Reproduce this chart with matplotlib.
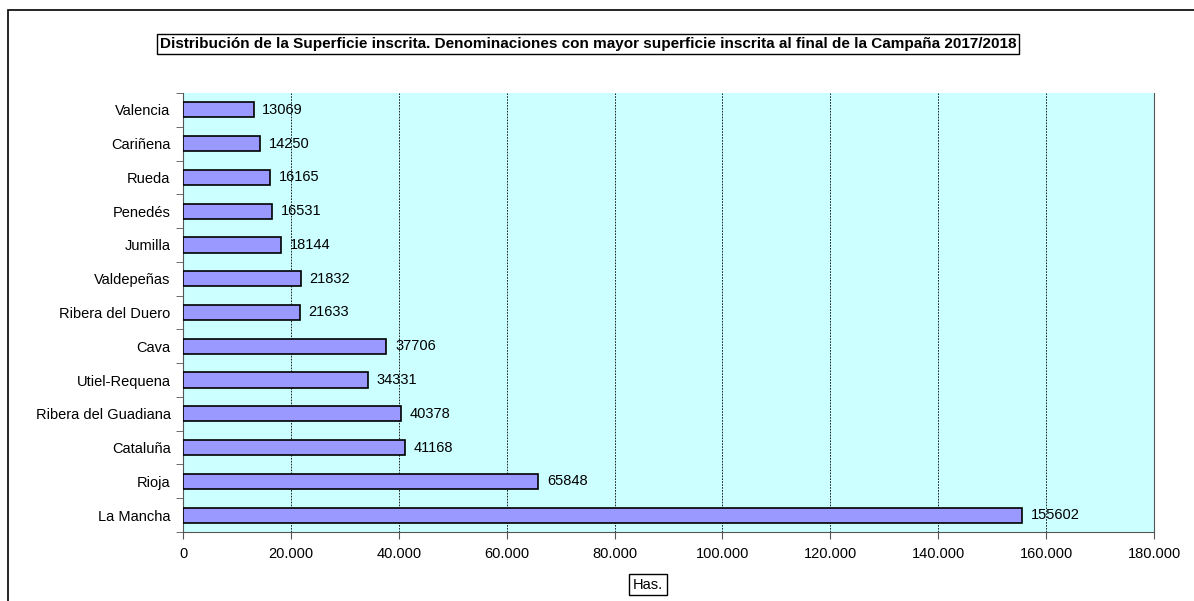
"""Superficie inscrita por denominación, campaña 2017/2018."""

import matplotlib
matplotlib.use("Agg")
import matplotlib.pyplot as plt
from matplotlib.patches import Rectangle
from matplotlib.ticker import FuncFormatter

plt.rcParams["font.family"] = ["Liberation Sans", "DejaVu Sans"]

DENOMINACIONES = [
    "La Mancha", "Rioja", "Cataluña", "Ribera del Guadiana", "Utiel-Requena",
    "Cava", "Ribera del Duero", "Valdepeñas", "Jumilla", "Penedés",
    "Rueda", "Cariñena", "Valencia",
]
HECTAREAS = [155602, 65848, 41168, 40378, 34331, 37706, 21633, 21832,
             18144, 16531, 16165, 14250, 13069]
X_TICKS = list(range(0, 180001, 20000))

TITLE = ("Distribución de la Superficie inscrita. Denominaciones con mayor "
         "superficie inscrita al final de la Campaña 2017/2018")


def miles(x, pos):
    return f"{int(x):,}".replace(",", ".")


def main():
    fig = plt.figure(figsize=(11.94, 6.01), dpi=100)
    ax = fig.add_axes([0.1533, 0.1148, 0.8132, 0.7305])
    ax.set_facecolor("#CCFFFF")

    ypos = range(len(DENOMINACIONES))
    ax.barh(ypos, HECTAREAS, height=0.45, color="#9999FF",
            edgecolor="black", linewidth=1.2, zorder=3)
    for y, v in zip(ypos, HECTAREAS):
        ax.text(v + 1600, y, str(v), va="center", ha="left",
                fontsize=10.5, zorder=4)

    ax.set_xlim(0, 180000)
    ax.set_ylim(-0.5, len(DENOMINACIONES) - 0.5)
    ax.set_xticks(X_TICKS)
    ax.xaxis.set_major_formatter(FuncFormatter(miles))
    ax.set_yticks(list(ypos))
    ax.set_yticklabels(DENOMINACIONES)
    ax.set_yticks([y - 0.5 for y in ypos] + [len(DENOMINACIONES) - 0.5],
                  minor=True)
    ax.tick_params(axis="y", which="major", length=0, pad=9, labelsize=10.5)
    ax.tick_params(axis="y", which="minor", length=5, color="#555555")
    ax.tick_params(axis="x", length=5, color="#555555", labelsize=10.5, pad=6)

    ax.grid(axis="x", color="black", linestyle=(0, (2, 1.5)),
            linewidth=0.6, zorder=1)
    ax.spines["top"].set_visible(False)
    for side in ("left", "bottom", "right"):
        ax.spines[side].set_color("#555555")

    fig.text(0.4925, 0.927, TITLE, ha="center", va="center", fontsize=11,
             fontweight="bold",
             bbox=dict(boxstyle="square,pad=0.2", facecolor="white",
                       edgecolor="black", linewidth=1))
    fig.text(0.5427, 0.027, "Has.", ha="center", va="center", fontsize=10.5,
             bbox=dict(boxstyle="square,pad=0.25", facecolor="white",
                       edgecolor="black", linewidth=1))

    fig.patches.append(Rectangle((0.007, -0.01), 1.0, 0.994,
                                 transform=fig.transFigure, fill=False,
                                 edgecolor="black", linewidth=1.2))

    fig.savefig("out.png", dpi=100)
    plt.close(fig)


if __name__ == "__main__":
    main()
